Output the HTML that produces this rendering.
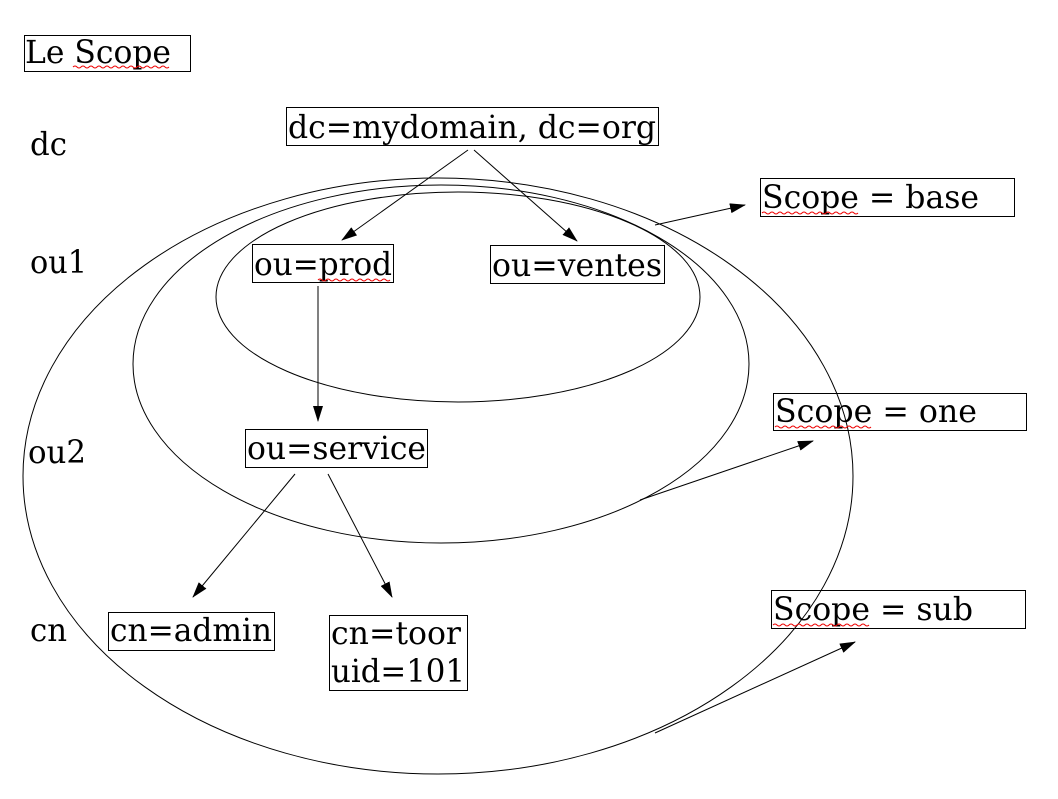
<!DOCTYPE html>
<html><head><style>body{margin:0;background:#fff}</style></head><body>
<svg width="1058" height="794" xmlns="http://www.w3.org/2000/svg" font-family="DejaVu Serif Condensed, DejaVu Serif, Liberation Serif, serif" font-size="32">
<defs><marker id="a" markerWidth="16" markerHeight="10" refX="15" refY="5" orient="auto" markerUnits="userSpaceOnUse"><path d="M0,0L16,5L0,10z" fill="#000"/></marker></defs>
<g fill="none" stroke="#000" stroke-width="1">
<ellipse cx="438" cy="476" rx="415" ry="298"/>
<ellipse cx="441" cy="364" rx="308" ry="179"/>
<ellipse cx="458" cy="297" rx="242" ry="105"/>
<rect x="24.5" y="35.5" width="166" height="36"/>
<rect x="286.5" y="107.5" width="372" height="38"/>
<rect x="252.5" y="244.5" width="141" height="38"/>
<rect x="490.5" y="245.5" width="174" height="38"/>
<rect x="760.5" y="178.5" width="254" height="38"/>
<rect x="773.5" y="393.5" width="253" height="37"/>
<rect x="245.5" y="429.5" width="182" height="38"/>
<rect x="108.5" y="612.5" width="166" height="38"/>
<rect x="329.5" y="615.5" width="138" height="75"/>
<rect x="771.5" y="590.5" width="254" height="38"/>
<g marker-end="url(#a)">
<line x1="468" y1="150" x2="342" y2="240"/>
<line x1="474" y1="150" x2="577" y2="241"/>
<line x1="318" y1="286" x2="318" y2="421"/>
<line x1="295" y1="474" x2="193" y2="597"/>
<line x1="328" y1="474" x2="392" y2="597"/>
<line x1="655" y1="225" x2="745" y2="205"/>
<line x1="640" y1="500" x2="813" y2="441"/>
<line x1="655" y1="733" x2="855" y2="642"/>
</g></g>
<g fill="#000">
<text x="25" y="63" textLength="146" lengthAdjust="spacingAndGlyphs">Le Scope</text>
<text x="288" y="138" textLength="368" lengthAdjust="spacingAndGlyphs">dc=mydomain, dc=org</text>
<text x="254" y="275" textLength="138" lengthAdjust="spacingAndGlyphs">ou=prod</text>
<text x="492" y="276" textLength="170" lengthAdjust="spacingAndGlyphs">ou=ventes</text>
<text x="762" y="208" textLength="217" lengthAdjust="spacingAndGlyphs">Scope = base</text>
<text x="775" y="422" textLength="202" lengthAdjust="spacingAndGlyphs">Scope = one</text>
<text x="247" y="459" textLength="179" lengthAdjust="spacingAndGlyphs">ou=service</text>
<text x="110" y="641" textLength="162" lengthAdjust="spacingAndGlyphs">cn=admin</text>
<text x="331" y="644" textLength="130" lengthAdjust="spacingAndGlyphs">cn=toor</text>
<text x="331" y="682" textLength="134" lengthAdjust="spacingAndGlyphs">uid=101</text>
<text x="773" y="620" textLength="200" lengthAdjust="spacingAndGlyphs">Scope = sub</text>
<text x="30" y="155" textLength="37" lengthAdjust="spacingAndGlyphs">dc</text>
<text x="30" y="273" textLength="57" lengthAdjust="spacingAndGlyphs">ou1</text>
<text x="28" y="463" textLength="58" lengthAdjust="spacingAndGlyphs">ou2</text>
<text x="30" y="641" textLength="37" lengthAdjust="spacingAndGlyphs">cn</text>
</g>
<g fill="none" stroke="#e00" stroke-width="1">
<path d="M73,67 q2,-2 4,0 t4,0 t4,0 t4,0 t4,0 t4,0 t4,0 t4,0 t4,0 t4,0 t4,0 t4,0 t4,0 t4,0 t4,0 t4,0 t4,0 t4,0 t4,0 t4,0 t4,0 t4,0 t4,0 t4,0"/>
<path d="M318,280 q2,-2 4,0 t4,0 t4,0 t4,0 t4,0 t4,0 t4,0 t4,0 t4,0 t4,0 t4,0 t4,0 t4,0 t4,0 t4,0 t4,0 t4,0 t4,0"/>
<path d="M762,213 q2,-2 4,0 t4,0 t4,0 t4,0 t4,0 t4,0 t4,0 t4,0 t4,0 t4,0 t4,0 t4,0 t4,0 t4,0 t4,0 t4,0 t4,0 t4,0 t4,0 t4,0 t4,0 t4,0 t4,0 t4,0"/>
<path d="M775,427 q2,-2 4,0 t4,0 t4,0 t4,0 t4,0 t4,0 t4,0 t4,0 t4,0 t4,0 t4,0 t4,0 t4,0 t4,0 t4,0 t4,0 t4,0 t4,0 t4,0 t4,0 t4,0 t4,0 t4,0 t4,0"/>
<path d="M773,625 q2,-2 4,0 t4,0 t4,0 t4,0 t4,0 t4,0 t4,0 t4,0 t4,0 t4,0 t4,0 t4,0 t4,0 t4,0 t4,0 t4,0 t4,0 t4,0 t4,0 t4,0 t4,0 t4,0 t4,0 t4,0"/>
</g>
</svg>
</body></html>
